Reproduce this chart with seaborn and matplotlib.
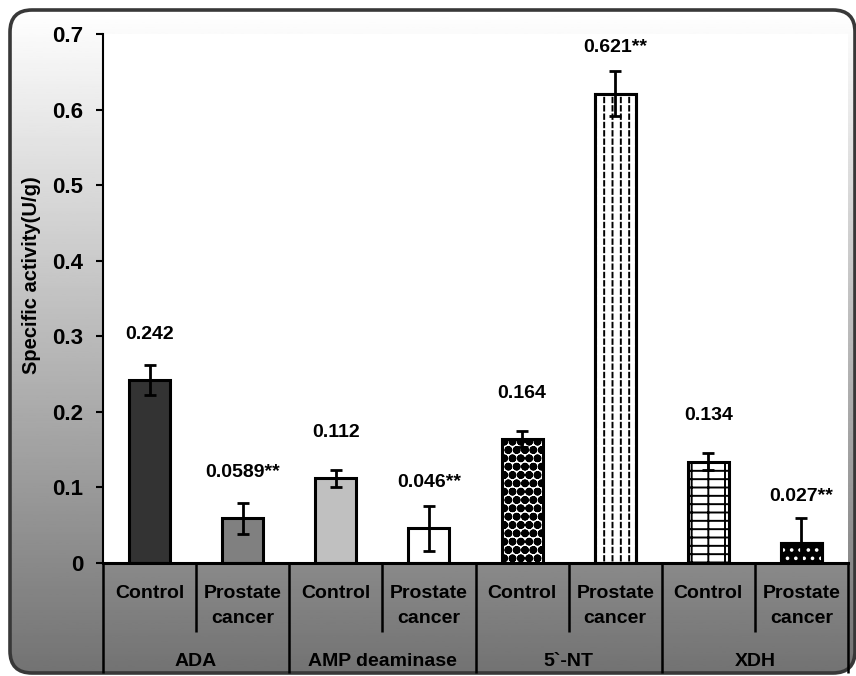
import numpy as np
import pandas as pd
import matplotlib
matplotlib.use("Agg")
import matplotlib.pyplot as plt
import matplotlib.transforms as mtransforms
from matplotlib.patches import FancyBboxPatch
import seaborn as sns

# ---------------- data ----------------
enzymes = ["ADA", "AMP deaminase", "5`-NT", "XDH"]
groups = ["Control", "Prostate\ncancer"]
values = [0.242, 0.0589, 0.112, 0.046, 0.164, 0.621, 0.134, 0.027]
errors = [0.020, 0.020, 0.011, 0.030, 0.011, 0.030, 0.011, 0.032]
significance = ["", "**", "", "**", "", "**", "", "**"]
yticks = [0, 0.1, 0.2, 0.3, 0.4, 0.5, 0.6, 0.7]
ylabel = "Specific activity(U/g)"

# ---------------- style ----------------
sns.set_theme(style="white")
plt.rcParams["font.family"] = ["Liberation Sans", "DejaVu Sans"]
plt.rcParams["font.weight"] = "bold"
plt.rcParams["hatch.linewidth"] = 1.4

W, H = 856, 676
fig = plt.figure(figsize=(W / 100, H / 100), dpi=100)
fig.patch.set_facecolor("white")

# background with rounded border and vertical gradient
bg = fig.add_axes([0, 0, 1, 1])
bg.set_xlim(0, W)
bg.set_ylim(H, 0)
bg.axis("off")
frame = FancyBboxPatch((10, 10), 845, 663,
                       boxstyle="round,pad=0,rounding_size=22",
                       facecolor="none", edgecolor="#383838", linewidth=2.6, zorder=3)
bg.add_patch(frame)
grad = np.linspace(1.0, 0.45, 256).reshape(-1, 1)
im = bg.imshow(grad, cmap="gray", vmin=0, vmax=1, extent=[10, 855, 673, 10],
               aspect="auto", zorder=1)
im.set_clip_path(frame)

# main axes
x0, x1, ytop, ybot = 103, 848, 34, 563
ax = fig.add_axes([x0 / W, (H - ybot) / H, (x1 - x0) / W, (ybot - ytop) / H])
ax.set_facecolor("white")

ids = [f"{e}|{g}" for e in enzymes for g in groups]
df = pd.DataFrame({"bar": ids, "value": values})
colors = ["#333333", "#808080", "#c0c0c0", "#ffffff",
          "#ffffff", "#ffffff", "#ffffff", "#000000"]
hatches = [None, None, None, None, "OO..", "||", "+-", None]

sns.barplot(data=df, x="bar", y="value", hue="bar", palette=colors,
            legend=False, width=0.44, edgecolor="black", linewidth=2.2,
            errorbar=None, saturation=1, ax=ax)

bars = [c.patches[0] for c in ax.containers]
for p, h in zip(bars, hatches):
    if h:
        p.set_hatch(h)

xs = np.arange(len(values))
# dashes on 5`-NT prostate cancer bar: break vertical hatch with white lines
ax.bar(xs[5], values[5], width=0.44, facecolor="none", edgecolor="white",
       hatch="--", linewidth=0, zorder=2.5)
# white dots on black bar (XDH prostate cancer)
ax.bar(xs[7], values[7], width=0.44, facecolor="none", edgecolor="white",
       hatch="..", linewidth=0, zorder=2.5)
for k in (5, 7):
    ax.bar(xs[k], values[k], width=0.44, facecolor="none", edgecolor="black",
           linewidth=2.2, zorder=2.6)

ax.errorbar(xs, values, yerr=errors, fmt="none", ecolor="black",
            elinewidth=2, capsize=4.5, capthick=2, zorder=4)

for xi, v, s in zip(xs, values, significance):
    ax.annotate(f"{v:g}{s}", (xi, v), xytext=(0, 33), textcoords="offset points",
                ha="center", va="center", fontsize=14, fontweight="bold",
                color="black")

ax.set_xlim(-0.5, len(values) - 0.5)
ax.set_ylim(0, 0.7)
ax.set_yticks(yticks)
ax.set_yticklabels([f"{t:g}" for t in yticks], fontsize=16, fontweight="bold")
ax.tick_params(axis="y", direction="out", length=5, width=1.5, pad=9, left=True,
               colors="black")
ax.set_xticks([])
ax.set_xlabel("")
ax.set_ylabel("")
for side in ["top", "right"]:
    ax.spines[side].set_visible(False)
ax.spines["left"].set_linewidth(1.5)
ax.spines["left"].set_color("black")
ax.spines["bottom"].set_linewidth(2.2)
ax.spines["bottom"].set_color("black")

# category table below axis
trans = mtransforms.blended_transform_factory(ax.transData, ax.transAxes)
def yf(px):
    return (ybot - px) / (ybot - ytop)

for i in range(len(values) + 1):
    xe = i - 0.5
    y_end = yf(673) if i % 2 == 0 else yf(632)
    ax.plot([xe, xe], [0, y_end], transform=trans, color="black", lw=1.8,
            clip_on=False, solid_capstyle="butt")

for i, lab in enumerate(ids):
    g = lab.split("|")[1]
    ax.text(i, yf(585), g, transform=trans, ha="center", va="top",
            fontsize=14, fontweight="bold", linespacing=1.6, color="black")
for k, e in enumerate(enzymes):
    ax.text(2 * k + 0.5, yf(661), e, transform=trans, ha="center", va="center",
            fontsize=14, fontweight="bold", color="black")

fig.text(32 / W, 1 - 275 / H, ylabel, rotation=90, ha="center", va="center",
         fontsize=14.5, fontweight="bold", color="black")

fig.savefig("out.png", dpi=100)
